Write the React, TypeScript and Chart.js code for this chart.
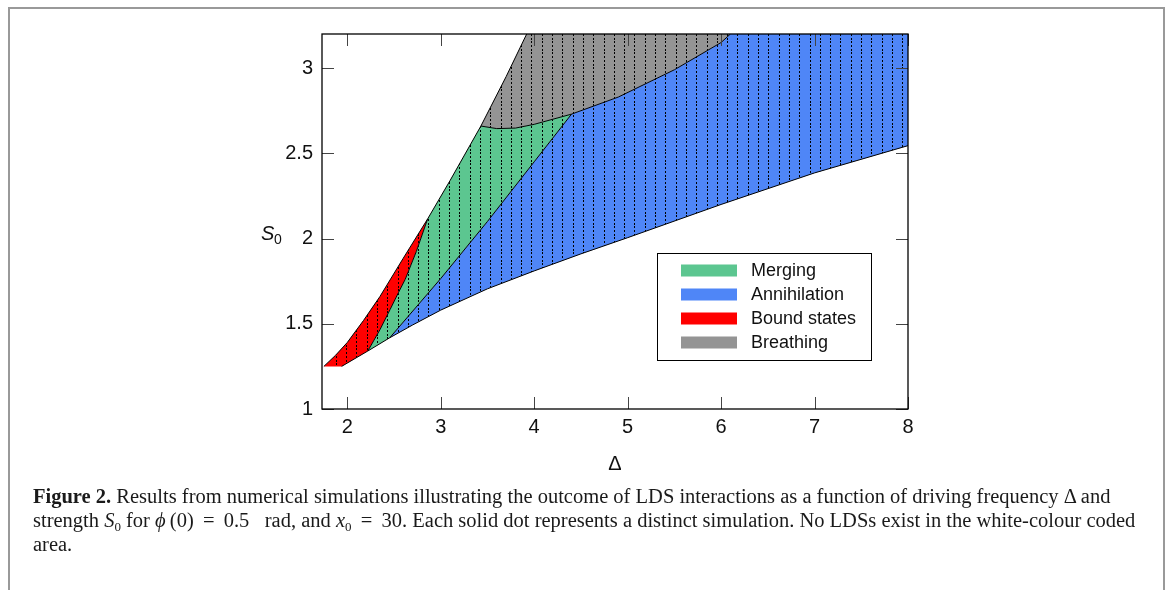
import React, { useEffect, useRef } from "react";
import { Chart, registerables } from "chart.js";
Chart.register(...registerables);

// ---- axes ----
const X_MIN = 1.73;
const X_MAX = 8;
const Y_MIN = 1;
const Y_MAX = 3.2;
const X_TICKS = [2, 3, 4, 5, 6, 7, 8];
const Y_TICKS = [1, 1.5, 2, 2.5, 3];

// ---- region boundary curves, [Δ, S0] ----
const UPPER_EDGE = [[1.75, 1.25], [1.875, 1.315], [2.0, 1.39], [2.175, 1.52], [2.35, 1.66], [2.6, 1.885], [2.86, 2.115], [3.1, 2.34], [3.43, 2.66], [3.7, 2.95], [3.92, 3.2]];
const LOWER_EDGE = [[1.94, 1.25], [2.22, 1.34], [2.455, 1.418], [2.7, 1.493], [3.0, 1.58], [3.5, 1.705], [4.0, 1.81], [4.5, 1.91], [5.0, 2.005], [6.0, 2.2], [7.0, 2.385], [8.0, 2.545]];
const RED_GREEN = [[2.22, 1.34], [2.35, 1.465], [2.46, 1.585], [2.55, 1.685], [2.62, 1.76], [2.74, 1.925], [2.86, 2.115]];
const GREEN_BLUE = [[2.455, 1.418], [3.0, 1.765], [3.5, 2.1], [4.0, 2.45], [4.4, 2.73]];
const BREATH_EDGE = [[3.43, 2.66], [3.6, 2.645], [3.8, 2.648], [4.0, 2.67], [4.4, 2.73], [4.9, 2.83], [5.5, 2.99], [6.0, 3.15], [6.1, 3.2]];
const TOP_RIGHT = [[8.0, 3.2]];

const LABELS = ["Merging", "Annihilation", "Bound states", "Breathing"];
const COLORS = ["#5cc690", "#4f86f7", "#ff0000", "#949494"];

type P = number[];
const seg = (c: P[], a: number, b: number) => {
  const r = c.filter((p) => p[0] >= Math.min(a, b) && p[0] <= Math.max(a, b));
  return a > b ? r.reverse() : r;
};
const pts = (c: P[]) => c.map((p) => ({ x: p[0], y: p[1] }));

const RED_POLY = [...seg(UPPER_EDGE, 1.75, 2.86), ...seg(RED_GREEN, 2.86, 2.22), ...seg(LOWER_EDGE, 2.22, 1.94)];
const GREEN_POLY = [...seg(RED_GREEN, 2.22, 2.86), ...seg(UPPER_EDGE, 2.86, 3.43), ...seg(BREATH_EDGE, 3.43, 4.4), ...seg(GREEN_BLUE, 4.4, 2.455), ...seg(LOWER_EDGE, 2.455, 2.22)];
const BLUE_POLY = [...seg(GREEN_BLUE, 2.455, 4.4), ...seg(BREATH_EDGE, 4.4, 6.1), ...TOP_RIGHT, ...seg(LOWER_EDGE, 8, 2.455)];
const GRAY_POLY = [...seg(UPPER_EDGE, 3.43, 3.92), ...seg(BREATH_EDGE, 6.1, 3.43)];

// hatch (simulation dots) style in pixels
const HATCH_DX = 10.3;
const HATCH_DY = 3.7;
const HATCH_OFF = 8.4;

function makeHatch(color: string) {
  const nx = 10, ny = 10;
  const w = Math.round(HATCH_DX * nx), h = Math.round(HATCH_DY * ny);
  const c = document.createElement("canvas");
  c.width = w; c.height = h;
  const g = c.getContext("2d")!;
  g.fillStyle = color; g.fillRect(0, 0, w, h);
  g.fillStyle = "#000";
  for (let i = 0; i < nx; i++)
    for (let j = 0; j < ny; j++)
      g.fillRect(Math.round(HATCH_OFF + i * HATCH_DX) % w, Math.round(j * HATCH_DY), 1, 2);
  return g.createPattern(c, "repeat")!;
}

const FONT = '"Liberation Sans", Arial, sans-serif';

const decorPlugin = {
  id: "decor",
  afterDraw(chart: any) {
    const { ctx, chartArea: a, scales } = chart;
    const x = scales.x, y = scales.y;
    ctx.save();
    ctx.strokeStyle = "#444";
    ctx.lineWidth = 1;
    for (const v of X_TICKS) {
      const px = Math.round(x.getPixelForValue(v)) + 0.5;
      ctx.beginPath();
      ctx.moveTo(px, a.bottom); ctx.lineTo(px, a.bottom - 12);
      ctx.moveTo(px, a.top); ctx.lineTo(px, a.top + 12);
      ctx.stroke();
    }
    for (const v of Y_TICKS) {
      const py = Math.round(y.getPixelForValue(v)) + 0.5;
      ctx.beginPath();
      ctx.moveTo(a.left, py); ctx.lineTo(a.left + 12, py);
      ctx.moveTo(a.right, py); ctx.lineTo(a.right - 12, py);
      ctx.stroke();
    }
    ctx.strokeStyle = "#000";
    ctx.lineWidth = 1.3;
    ctx.strokeRect(a.left, a.top, a.right - a.left, a.bottom - a.top);

    // axis titles
    ctx.fillStyle = "#111";
    ctx.textBaseline = "alphabetic";
    ctx.textAlign = "left";
    ctx.font = `italic 20px ${FONT}`;
    ctx.fillText("S", a.left - 61, a.top + 206);
    ctx.font = `14px ${FONT}`;
    ctx.fillText("0", a.left - 48, a.top + 210);
    ctx.font = `20px ${FONT}`;
    ctx.textAlign = "center";
    ctx.textBaseline = "middle";
    ctx.fillText("Δ", (a.left + a.right) / 2, a.bottom + 55);

    // legend
    const lx = a.left + 335, ly = a.top + 219, lw = 214, lh = 107;
    ctx.fillStyle = "#fff";
    ctx.fillRect(lx, ly, lw, lh);
    ctx.strokeStyle = "#000";
    ctx.lineWidth = 1;
    ctx.strokeRect(lx + 0.5, ly + 0.5, lw, lh);
    ctx.textAlign = "left";
    ctx.textBaseline = "middle";
    ctx.font = `18px ${FONT}`;
    LABELS.forEach((lab, i) => {
      const cy = ly + 17.5 + i * 24;
      ctx.fillStyle = COLORS[i];
      ctx.fillRect(lx + 24, cy - 6, 56, 12);
      ctx.fillStyle = "#111";
      ctx.fillText(lab, lx + 94, cy + 1);
    });
    ctx.restore();
  },
};

const subStyle: React.CSSProperties = { fontSize: 13, verticalAlign: "baseline", position: "relative", top: 4, lineHeight: 0 };

export default function App() {
  const ref = useRef<HTMLCanvasElement>(null);
  useEffect(() => {
    document.body.style.overflow = "hidden";
    const polyDs = (label: string, data: P[], color: string) => ({
      type: "line" as const,
      label,
      data: pts(data),
      backgroundColor: makeHatch(color),
      borderColor: "rgba(0,0,0,0)",
      borderWidth: 0,
      pointRadius: 0,
      fill: "shape",
      tension: 0,
      order: 2,
    });
    const lineDs = (label: string, data: P[]) => ({
      type: "line" as const,
      label,
      data: pts(data),
      borderColor: "#000",
      borderWidth: 1,
      pointRadius: 0,
      fill: false,
      tension: 0,
      order: 1,
    });
    const chart = new Chart(ref.current!, {
      type: "line",
      data: {
        datasets: [
          polyDs(LABELS[0], GREEN_POLY, COLORS[0]),
          polyDs(LABELS[1], BLUE_POLY, COLORS[1]),
          polyDs(LABELS[2], RED_POLY, COLORS[2]),
          polyDs(LABELS[3], GRAY_POLY, COLORS[3]),
          lineDs("upper", UPPER_EDGE),
          lineDs("lower", LOWER_EDGE),
          lineDs("red-green", RED_GREEN),
          lineDs("green-blue", GREEN_BLUE),
          lineDs("breathing", BREATH_EDGE),
        ] as any,
      },
      options: {
        animation: false,
        responsive: false,
        events: [],
        layout: { padding: { left: 0, right: 252, top: 26, bottom: 0 } },
        plugins: { legend: { display: false }, tooltip: { enabled: false } },
        scales: {
          x: {
            type: "linear",
            min: X_MIN,
            max: X_MAX,
            afterBuildTicks: (s: any) => { s.ticks = X_TICKS.map((v) => ({ value: v })); },
            afterFit: (s: any) => { s.height = 69; },
            grid: { display: false, drawTicks: false },
            border: { display: false },
            ticks: { padding: 6, color: "#111", font: { family: FONT, size: 20 }, callback: (v: any) => String(v) },
          },
          y: {
            type: "linear",
            min: Y_MIN,
            max: Y_MAX,
            afterBuildTicks: (s: any) => { s.ticks = Y_TICKS.map((v) => ({ value: v })); },
            afterFit: (s: any) => { s.width = 314; },
            grid: { display: false, drawTicks: false },
            border: { display: false },
            ticks: { padding: 9, color: "#111", font: { family: FONT, size: 20 }, callback: (v: any) => String(v) },
          },
        },
      } as any,
      plugins: [decorPlugin],
    });
    return () => chart.destroy();
  }, []);

  return (
    <div style={{ position: "relative", width: 1152, height: 574 }}>
      <div
        style={{
          position: "fixed", left: 8, top: 7, width: 1157, height: 600, boxSizing: "border-box",
          borderTop: "2px solid #999", borderLeft: "2px solid #999", borderRight: "2px solid #999",
        }}
      />
      <canvas ref={ref} width={1152} height={470} style={{ position: "absolute", left: 0, top: 0, width: 1152, height: 470 }} />
      <div
        style={{
          position: "absolute", left: 25, top: 476, whiteSpace: "nowrap",
          fontFamily: '"Liberation Serif", "Times New Roman", serif', fontSize: 20.5, lineHeight: "24px", color: "#1a1a1a",
        }}
      >
        <b>Figure 2.</b> Results from numerical simulations illustrating the outcome of LDS interactions as a function of driving frequency Δ and
        <br />
        strength <i>S</i><span style={subStyle}>0</span> for <i>ϕ</i>&thinsp;(0)&thinsp; = &thinsp;0.5&nbsp;&nbsp; rad, and <i>x</i><span style={subStyle}>0</span>&thinsp; = &thinsp;30. Each solid dot represents a distinct simulation. No LDSs exist in the white-colour coded
        <br />
        area.
      </div>
    </div>
  );
}
